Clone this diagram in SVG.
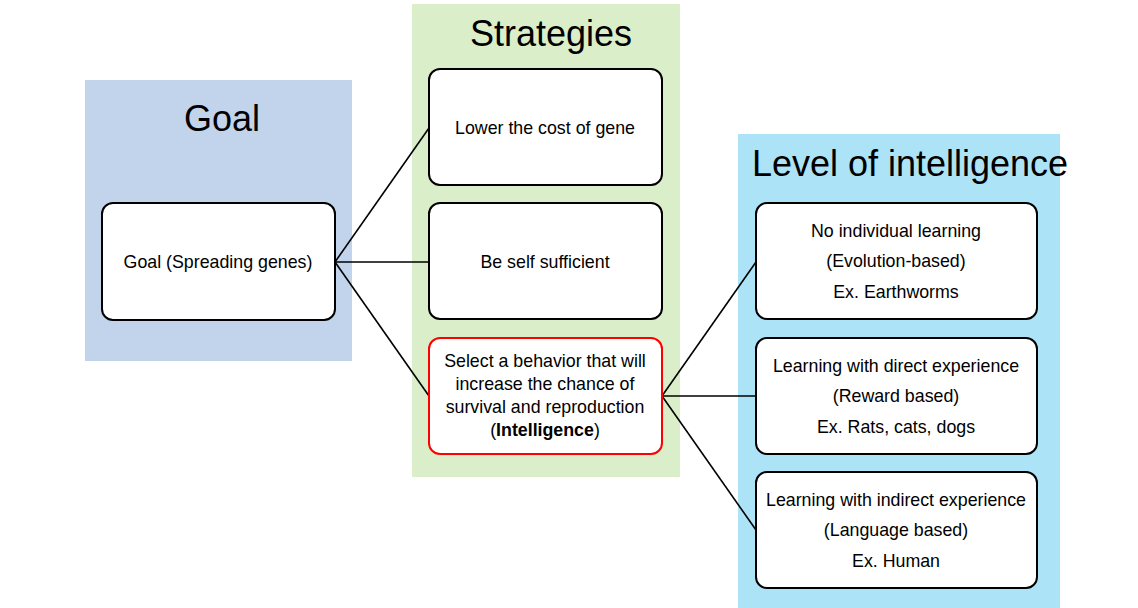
<svg xmlns="http://www.w3.org/2000/svg" width="1138" height="608" viewBox="0 0 1138 608">
<style>
.panel{stroke:none}
.box{fill:#fff;stroke:#000;stroke-width:2}
.red{stroke:#ff0000}
.title{font-family:"Liberation Sans",Arial,sans-serif;font-size:36px;fill:#000;text-anchor:middle}
.t{font-family:"Liberation Sans",Arial,sans-serif;font-size:17.8px;fill:#000;text-anchor:middle}
.conn line{stroke:#000;stroke-width:1.6}
</style>
<rect width="1138" height="608" fill="#fff"/>
<g id="panel-goal"><rect class="panel" x="85" y="80" width="267" height="281" fill="#c2d3ec"/><text class="title" x="222" y="131">Goal</text></g>
<g id="panel-strategies"><rect class="panel" x="412" y="4" width="268" height="473" fill="#daefc9"/><text class="title" x="551" y="46">Strategies</text></g>
<g id="panel-level"><rect class="panel" x="738" y="134" width="322" height="474" fill="#ade3f7"/><text class="title" x="910" y="176">Level of intelligence</text></g>
<g class="conn" id="connectors">
<line x1="335" y1="262" x2="429" y2="128"/>
<line x1="335" y1="262" x2="429" y2="262"/>
<line x1="335" y1="262" x2="429" y2="396"/>
<line x1="662" y1="396" x2="756" y2="262"/>
<line x1="662" y1="396" x2="756" y2="396"/>
<line x1="662" y1="396" x2="756" y2="530"/>
</g>
<g id="goal"><rect class="box" x="102" y="203" width="233" height="117" rx="11"/><text class="t" x="218" y="268">Goal (Spreading genes)</text></g>
<g id="s1"><rect class="box" x="429" y="69" width="233" height="116" rx="11"/><text class="t" x="545" y="134">Lower the cost of gene</text></g>
<g id="s2"><rect class="box" x="429" y="203" width="233" height="116" rx="11"/><text class="t" x="545" y="268">Be self sufficient</text></g>
<g id="s3"><rect class="box red" x="429" y="338" width="233" height="116" rx="11"/>
<text class="t" x="545" y="367">Select a behavior that will</text>
<text class="t" x="545" y="390">increase the chance of</text>
<text class="t" x="545" y="413">survival and reproduction</text>
<text class="t" x="545" y="436">(<tspan font-weight="bold">Intelligence</tspan>)</text></g>
<g id="l1"><rect class="box" x="756" y="203" width="281" height="116" rx="11"/>
<text class="t" x="896" y="237">No individual learning</text>
<text class="t" x="896" y="267">(Evolution-based)</text>
<text class="t" x="896" y="298">Ex. Earthworms</text></g>
<g id="l2"><rect class="box" x="756" y="338" width="281" height="116" rx="11"/>
<text class="t" x="896" y="372">Learning with direct experience</text>
<text class="t" x="896" y="402">(Reward based)</text>
<text class="t" x="896" y="433">Ex. Rats, cats, dogs</text></g>
<g id="l3"><rect class="box" x="756" y="472" width="281" height="116" rx="11"/>
<text class="t" x="896" y="506">Learning with indirect experience</text>
<text class="t" x="896" y="536">(Language based)</text>
<text class="t" x="896" y="567">Ex. Human</text></g>
</svg>
